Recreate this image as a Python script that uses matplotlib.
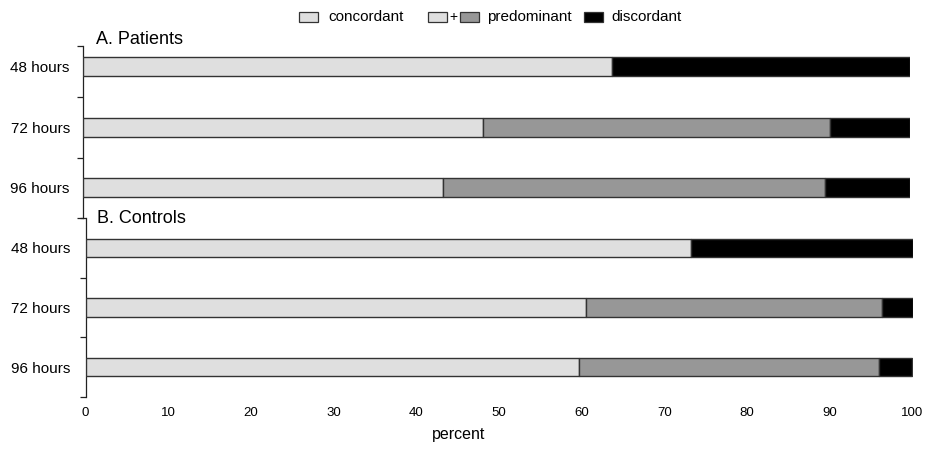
import matplotlib
matplotlib.use("Agg")
import matplotlib.pyplot as plt
from matplotlib.patches import Rectangle
import numpy as np

plt.rcParams['font.family'] = ['Liberation Sans', 'DejaVu Sans']

# ---- data ----
categories = ["48 hours", "72 hours", "96 hours"]
patients_concordant = [64.0, 48.4, 43.5]
patients_predominant = [0.0, 41.9, 46.2]
patients_discordant = [36.0, 9.7, 10.3]
controls_concordant = [73.2, 60.5, 59.7]
controls_predominant = [0.0, 35.8, 36.2]
controls_discordant = [26.8, 3.7, 4.1]
xticks = [0, 10, 20, 30, 40, 50, 60, 70, 80, 90, 100]
panel_titles = ["A. Patients", "B. Controls"]
legend_labels = ["concordant", "predominant", "discordant"]

C_CON = "#dfdfdf"
C_PRE = "#979797"
C_DIS = "#000000"
EDGE = "#333333"

W, H = 927, 449
fig = plt.figure(figsize=(W / 100, H / 100), dpi=100)


def ax_rect(left, right, top, bottom):
    return [left / W, 1 - bottom / H, (right - left) / W, (bottom - top) / H]


def fx(px):
    return px / W


def fy(py):
    return 1 - py / H


ax1 = fig.add_axes(ax_rect(83, 910, 46, 218))
ax2 = fig.add_axes(ax_rect(85.5, 912.5, 218, 397))


def draw(ax, con, pre, dis, ylim, minor, pad):
    y = np.arange(len(categories))
    con = np.array(con)
    pre = np.array(pre)
    dis = np.array(dis)
    h = 0.31
    ax.barh(y, con, height=h, color=C_CON, edgecolor=EDGE, linewidth=1.0, zorder=3)
    ax.barh(y, pre, left=con, height=h, color=C_PRE, edgecolor=EDGE,
            linewidth=[1.0 if p > 0 else 0 for p in pre], zorder=3)
    ax.barh(y, dis, left=con + pre, height=h, color=C_DIS, edgecolor=EDGE, linewidth=1.0, zorder=3)
    ax.set_xlim(0, 100)
    ax.set_ylim(*ylim)
    ax.set_yticks(y)
    ax.set_yticklabels(categories, fontsize=11)
    ax.set_yticks(minor, minor=True)
    ax.tick_params(axis='y', which='major', length=0, pad=pad)
    ax.tick_params(axis='y', which='minor', length=4, width=0.9, direction='out', color='#222222')
    for s in ['top', 'right', 'bottom']:
        ax.spines[s].set_visible(False)
    ax.spines['left'].set_linewidth(0.9)
    ax.spines['left'].set_color('#222222')
    ax.set_facecolor('none')


draw(ax1, patients_concordant, patients_predominant, patients_discordant,
     (2.5, -0.343), [-0.343, 0.5, 1.5, 2.5], 9.5)
draw(ax2, controls_concordant, controls_predominant, controls_discordant,
     (2.5, -0.5), [-0.5, 0.5, 1.5, 2.5], 11)

ax1.set_xticks([])
ax2.set_xticks(xticks)
ax2.set_xticklabels([str(t) for t in xticks], fontsize=9.5)
ax2.tick_params(axis='x', length=0, pad=7)

# x axis title
fig.text(fx(459), fy(435), "percent", fontsize=11.5, va='center', ha='center')

# panel titles
fig.text(fx(96), fy(39), panel_titles[0], fontsize=13, va='center', ha='left')
fig.text(fx(97), fy(218), panel_titles[1], fontsize=13, va='center', ha='left')

# legend (manual)
ly = 17
ph = 10
pw = 19


def patch(x0, color):
    fig.patches.append(Rectangle((fx(x0), fy(ly + ph / 2)), pw / W, ph / H,
                                 transform=fig.transFigure, facecolor=color,
                                 edgecolor=EDGE, linewidth=0.9))


patch(299, C_CON)
fig.text(fx(328), fy(ly), legend_labels[0], fontsize=11, va='center', ha='left')
patch(428, C_CON)
fig.text(fx(453.5), fy(ly), "+", fontsize=10, va='center', ha='center')
patch(460, C_PRE)
fig.text(fx(487), fy(ly), legend_labels[1], fontsize=11, va='center', ha='left')
patch(584, C_DIS)
fig.text(fx(611), fy(ly), legend_labels[2], fontsize=11, va='center', ha='left')

fig.savefig("out.png", dpi=100)
